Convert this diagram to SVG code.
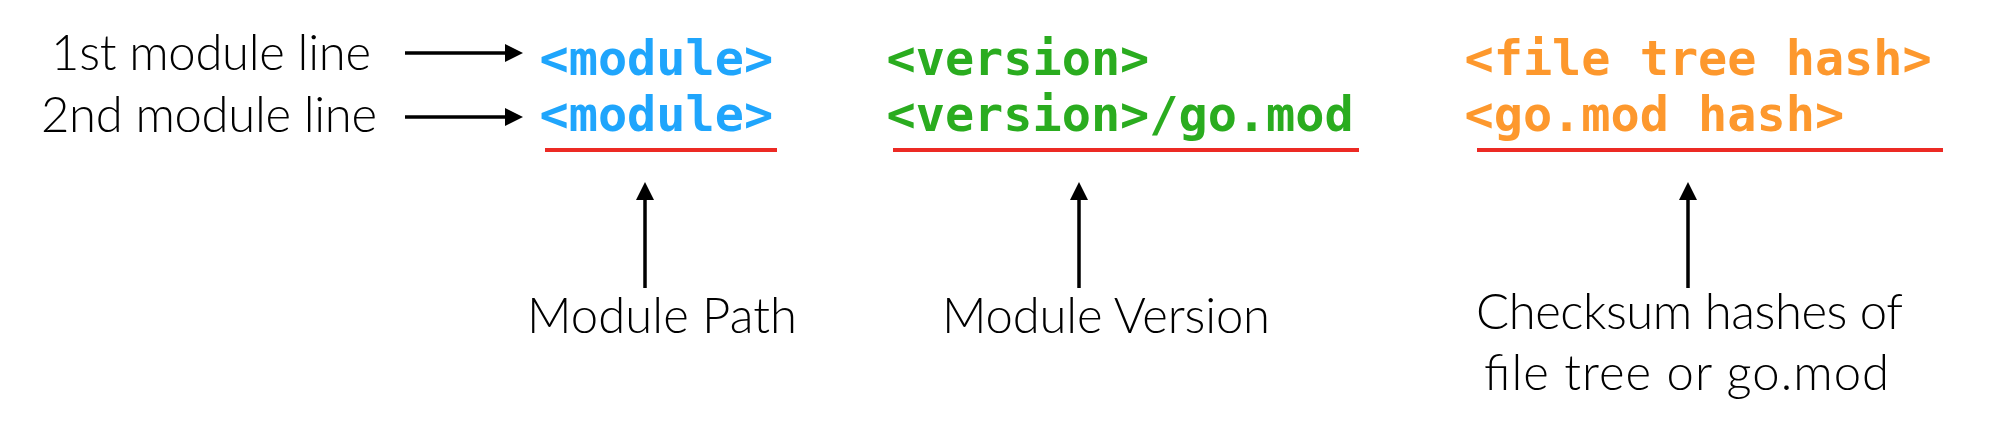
<svg xmlns="http://www.w3.org/2000/svg" width="1990" height="428" viewBox="0 0 1990 428">
  <style>
    .lbl { font-family: Lato, "Noto Sans", sans-serif; font-weight: 300; font-size: 49px; fill: #000; }
    .mono { font-family: "DejaVu Sans Mono", "Liberation Mono", monospace; font-weight: bold; font-size: 48.5px; }
    .blue { fill: #1fa5fc; }
    .green { fill: #2aac1f; }
    .orange { fill: #fd982d; }
    .under { stroke: #ec2a24; stroke-width: 4; fill: none; }
    .conn { stroke: #000; stroke-width: 3.5; fill: none; marker-end: url(#ah); }
  </style>
  <defs>
    <marker id="ah" markerUnits="userSpaceOnUse" markerWidth="18" markerHeight="18" refX="0" refY="9" orient="auto" viewBox="0 0 18 18">
      <path d="M0,0 L18,9 L0,18 Z" fill="#000"/>
    </marker>
  </defs>
  <rect width="1990" height="428" fill="#fff"/>

  <g id="label-line1"><text class="lbl" x="51" y="70" textLength="320">1st module line</text></g>
  <g id="label-line2"><text class="lbl" x="41" y="132" textLength="336">2nd module line</text></g>

  <g id="module-col">
    <text class="mono blue" x="539.5" y="75" textLength="233.6">&lt;module&gt;</text>
    <text class="mono blue" x="539.5" y="131" textLength="233.6">&lt;module&gt;</text>
    <line class="under" x1="545" y1="150" x2="777" y2="150"/>
  </g>
  <g id="version-col">
    <text class="mono green" x="886.5" y="75" textLength="262.8">&lt;version&gt;</text>
    <text class="mono green" x="886.5" y="131" textLength="467.2">&lt;version&gt;/go.mod</text>
    <line class="under" x1="893" y1="150" x2="1359" y2="150"/>
  </g>
  <g id="hash-col">
    <text class="mono orange" x="1464.5" y="75" textLength="467.2">&lt;file tree hash&gt;</text>
    <text class="mono orange" x="1464.5" y="131" textLength="379.6">&lt;go.mod hash&gt;</text>
    <line class="under" x1="1477" y1="150" x2="1943" y2="150"/>
  </g>

  <g id="label-path"><text class="lbl" x="527" y="333" textLength="270">Module Path</text></g>
  <g id="label-version"><text class="lbl" x="942" y="333" textLength="328">Module Version</text></g>
  <g id="label-checksum">
    <text class="lbl" x="1476" y="329" textLength="427">Checksum hashes of</text>
    <text class="lbl" x="1484" y="390" textLength="405">file tree or go.mod</text>
  </g>

  <g id="connectors">
    <line class="conn" x1="405" y1="53" x2="505" y2="53"/>
    <line class="conn" x1="405" y1="117" x2="505" y2="117"/>
    <line class="conn" x1="645" y1="288" x2="645" y2="200"/>
    <line class="conn" x1="1079" y1="288" x2="1079" y2="200"/>
    <line class="conn" x1="1688" y1="288" x2="1688" y2="200"/>
  </g>
</svg>
